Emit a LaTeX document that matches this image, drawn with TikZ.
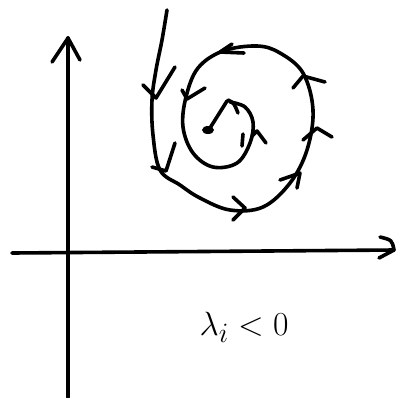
\documentclass[tikz,border=0pt]{standalone}
\usepackage{amsmath, amssymb}
\usepackage{tikz}

\tikzset{pen/.style={line width=3.6pt, line cap=round, line join=round}}

\begin{document}
\begin{tikzpicture}[x=1pt, y=-1pt]
	\useasboundingbox (0,0) rectangle (398,397);
	
	% 坐标轴
	\draw[pen] (68,397) -- (68,38);
	\draw[pen] (52,62) -- (68,38) -- (80,60);
	\draw[pen] (12,253) -- (394,250);
	\draw[pen] (380,237) .. controls (392,240) .. (394,250) -- (379,258);
	
	% 螺旋线
	\draw[pen] plot[smooth, tension=0.6] coordinates {
		(167,10) (162,40) (156,70) (152,100) (153,135) (160,170)
		(180,185) (200,198) (230,210) (263,207) (290,183) (307,150)
		(313,110) (303,73) (280,53) (257,46) (223,51) (198,68)
		(186,97) (183,127) (193,153) (213,167) (237,163) (250,143)
		(253,122) (245,107) (230,102)};
	
	% 中心点
	\draw[pen] (227,101) -- (210,128);
	\fill (208,130) ellipse (6 and 4);
	
	% 箭头
	\draw[pen] (143,85) -- (156,98) -- (175,67);    % 左上
	\draw[pen] (175,143) -- (166,171) -- (152,167); % 左下
	\draw[pen] (233,197) -- (245,208) -- (233,220); % 下
	\draw[pen] (280,180) -- (300,173) -- (297,188); % 右下
	\draw[pen] (303,140) -- (317,128) -- (332,137); % 右
	\draw[pen] (293,88) -- (303,76) -- (325,82);    % 右上
	\draw[pen] (232,44) -- (220,52) -- (244,53);    % 上
	\draw[pen] (182,90) -- (187,99) -- (205,88);    % 内圈左
	\draw[pen] (228,100) .. controls (234,103) .. (238,113); % 内圈上
	\draw[pen] (252,136) -- (257,131) -- (266,143); % 内圈右
	\draw[pen] (243,134) -- (242,146);
	
	% 标注
	\node[font=\Huge, scale=1.35] (label) at (244,327) {$\lambda_i < 0$};
\end{tikzpicture}
\end{document}
